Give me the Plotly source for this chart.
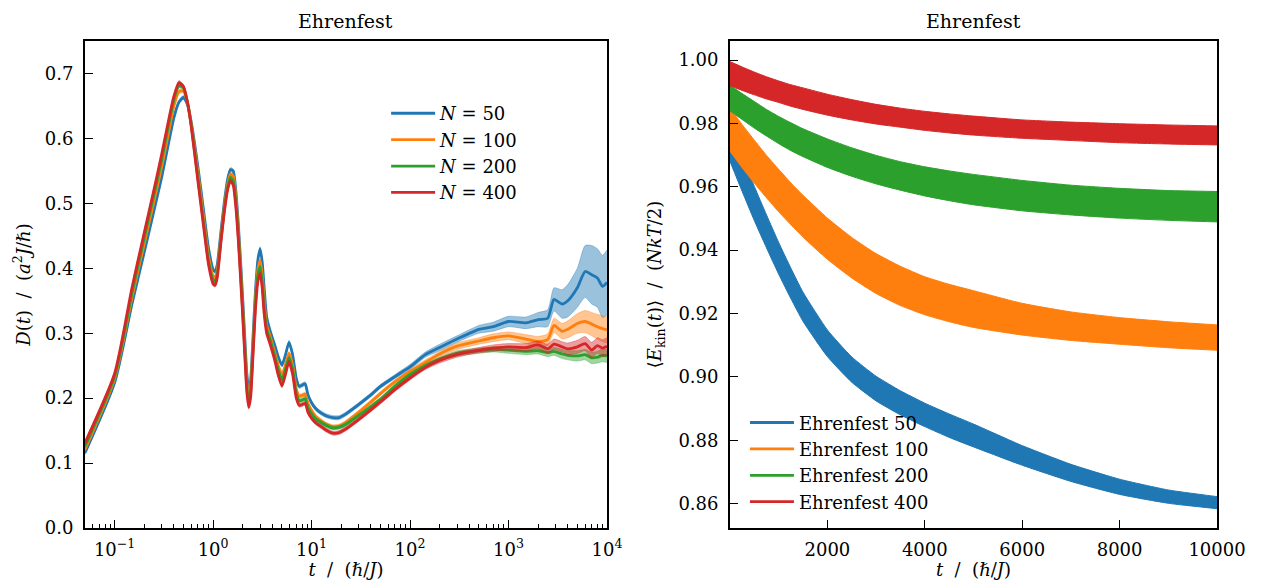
import numpy as np
import plotly.graph_objects as go

# ---------------- data: left panel, D(t) ----------------
T = [0.05, 0.1, 0.15, 0.2, 0.25, 0.3, 0.35, 0.4, 0.45, 0.5,
     0.55, 0.6, 0.7, 0.8, 0.9, 1.0, 1.05, 1.1, 1.2, 1.3,
     1.4, 1.5, 1.6, 1.7, 1.8, 1.9, 2.0, 2.1, 2.2, 2.3,
     2.4, 2.5, 2.6, 2.7, 2.85, 3.0, 3.15, 3.3, 3.5, 3.8,
     4.2, 4.6, 5.0, 5.4, 5.9, 6.4, 7.0, 7.5, 8.0, 8.6,
     9.2, 10, 11, 12, 14, 16.5, 19, 22, 30, 40,
     50, 70, 100, 143, 200, 300, 500, 700, 1000, 1500,
     2000, 2500, 2900, 3500, 4000, 5000, 6000, 7000, 8000, 9000,
     10000]

D50 = [0.116, 0.224, 0.345, 0.425, 0.488, 0.540, 0.590, 0.632, 0.656, 0.663,
       0.652, 0.625, 0.557, 0.489, 0.430, 0.398, 0.395, 0.405, 0.456, 0.502,
       0.536, 0.552, 0.550, 0.520, 0.470, 0.412, 0.352, 0.292, 0.238, 0.213,
       0.226, 0.272, 0.323, 0.368, 0.413, 0.430, 0.410, 0.370, 0.325, 0.303,
       0.283, 0.263, 0.251, 0.265, 0.286, 0.268, 0.230, 0.218, 0.220, 0.222,
       0.205, 0.193, 0.184, 0.179, 0.173, 0.170, 0.170, 0.175, 0.190, 0.205,
       0.218, 0.233, 0.248, 0.267, 0.278, 0.291, 0.306, 0.310, 0.318, 0.316,
       0.321, 0.323, 0.352, 0.345, 0.350, 0.370, 0.395, 0.390, 0.385, 0.372,
       0.378]

D100 = [0.121, 0.230, 0.355, 0.438, 0.502, 0.556, 0.606, 0.650, 0.672, 0.673,
        0.655, 0.622, 0.548, 0.478, 0.418, 0.388, 0.386, 0.396, 0.448, 0.494,
        0.528, 0.545, 0.542, 0.510, 0.459, 0.400, 0.340, 0.280, 0.226, 0.202,
        0.215, 0.260, 0.310, 0.356, 0.398, 0.412, 0.390, 0.350, 0.312, 0.295,
        0.272, 0.250, 0.236, 0.250, 0.269, 0.252, 0.214, 0.203, 0.204, 0.206,
        0.192, 0.181, 0.172, 0.167, 0.160, 0.156, 0.157, 0.162, 0.178, 0.194,
        0.207, 0.225, 0.241, 0.255, 0.268, 0.280, 0.288, 0.293, 0.296, 0.291,
        0.287, 0.290, 0.312, 0.303, 0.306, 0.315, 0.318, 0.314, 0.310, 0.307,
        0.305]

D200 = [0.126, 0.234, 0.362, 0.447, 0.512, 0.567, 0.618, 0.660, 0.681, 0.678,
        0.655, 0.620, 0.540, 0.470, 0.410, 0.382, 0.380, 0.390, 0.443, 0.490,
        0.524, 0.540, 0.535, 0.503, 0.452, 0.393, 0.333, 0.273, 0.218, 0.195,
        0.208, 0.253, 0.303, 0.349, 0.390, 0.402, 0.380, 0.340, 0.306, 0.290,
        0.266, 0.243, 0.228, 0.243, 0.262, 0.245, 0.207, 0.196, 0.197, 0.199,
        0.185, 0.176, 0.168, 0.164, 0.158, 0.154, 0.155, 0.159, 0.173, 0.187,
        0.198, 0.218, 0.236, 0.250, 0.260, 0.269, 0.273, 0.275, 0.274, 0.272,
        0.273, 0.270, 0.272, 0.268, 0.266, 0.265, 0.267, 0.262, 0.263, 0.266,
        0.265]

D400 = [0.131, 0.238, 0.370, 0.455, 0.520, 0.575, 0.625, 0.665, 0.686, 0.680,
        0.655, 0.618, 0.535, 0.465, 0.405, 0.376, 0.374, 0.385, 0.440, 0.487,
        0.520, 0.535, 0.528, 0.495, 0.445, 0.385, 0.325, 0.265, 0.210, 0.186,
        0.200, 0.245, 0.295, 0.340, 0.380, 0.392, 0.370, 0.330, 0.300, 0.283,
        0.260, 0.235, 0.219, 0.235, 0.256, 0.238, 0.200, 0.189, 0.190, 0.192,
        0.178, 0.169, 0.162, 0.158, 0.151, 0.146, 0.147, 0.152, 0.167, 0.182,
        0.194, 0.213, 0.231, 0.247, 0.258, 0.267, 0.274, 0.277, 0.279, 0.278,
        0.282, 0.276, 0.283, 0.279, 0.276, 0.279, 0.284, 0.274, 0.281, 0.277,
        0.280]

E50 = [0.003, 0.003, 0.003, 0.003, 0.003, 0.003, 0.003, 0.003, 0.003, 0.003,
       0.003, 0.003, 0.003, 0.003, 0.003, 0.003, 0.003, 0.003, 0.003, 0.003,
       0.003, 0.003, 0.003, 0.003, 0.003, 0.003, 0.003, 0.003, 0.003, 0.003,
       0.003, 0.003, 0.003, 0.003, 0.003, 0.003, 0.003, 0.003, 0.003, 0.003,
       0.003, 0.003, 0.003, 0.003, 0.003, 0.003, 0.003, 0.003, 0.003, 0.003,
       0.003, 0.003, 0.003, 0.003, 0.003, 0.003, 0.003, 0.003, 0.003, 0.003,
       0.003, 0.003, 0.004, 0.004, 0.005, 0.005, 0.006, 0.007, 0.008, 0.009,
       0.011, 0.013, 0.018, 0.022, 0.025, 0.030, 0.040, 0.045, 0.045, 0.048,
       0.050]

E100 = [0.003, 0.003, 0.003, 0.003, 0.003, 0.003, 0.003, 0.003, 0.003, 0.003,
        0.003, 0.003, 0.003, 0.003, 0.003, 0.003, 0.003, 0.003, 0.003, 0.003,
        0.003, 0.003, 0.003, 0.003, 0.003, 0.003, 0.003, 0.003, 0.003, 0.003,
        0.003, 0.003, 0.003, 0.003, 0.003, 0.003, 0.003, 0.003, 0.003, 0.003,
        0.003, 0.003, 0.003, 0.003, 0.003, 0.003, 0.003, 0.003, 0.003, 0.003,
        0.003, 0.003, 0.003, 0.003, 0.003, 0.003, 0.003, 0.003, 0.003, 0.003,
        0.003, 0.003, 0.003, 0.004, 0.004, 0.005, 0.005, 0.006, 0.006, 0.007,
        0.008, 0.009, 0.011, 0.012, 0.013, 0.015, 0.017, 0.018, 0.019, 0.020,
        0.020]

E200 = [0.003, 0.003, 0.003, 0.003, 0.003, 0.003, 0.003, 0.003, 0.003, 0.003,
        0.003, 0.003, 0.003, 0.003, 0.003, 0.003, 0.003, 0.003, 0.003, 0.003,
        0.003, 0.003, 0.003, 0.003, 0.003, 0.003, 0.003, 0.003, 0.003, 0.003,
        0.003, 0.003, 0.003, 0.003, 0.003, 0.003, 0.003, 0.003, 0.003, 0.003,
        0.003, 0.003, 0.003, 0.003, 0.003, 0.003, 0.003, 0.003, 0.003, 0.003,
        0.003, 0.003, 0.003, 0.003, 0.003, 0.003, 0.003, 0.003, 0.003, 0.003,
        0.003, 0.003, 0.003, 0.003, 0.003, 0.004, 0.004, 0.004, 0.005, 0.005,
        0.005, 0.006, 0.006, 0.007, 0.007, 0.008, 0.008, 0.009, 0.009, 0.010,
        0.010]

E400 = [0.003, 0.003, 0.003, 0.003, 0.003, 0.003, 0.003, 0.003, 0.003, 0.003,
        0.003, 0.003, 0.003, 0.003, 0.003, 0.003, 0.003, 0.003, 0.003, 0.003,
        0.003, 0.003, 0.003, 0.003, 0.003, 0.003, 0.003, 0.003, 0.003, 0.003,
        0.003, 0.003, 0.003, 0.003, 0.003, 0.003, 0.003, 0.003, 0.003, 0.003,
        0.003, 0.003, 0.003, 0.003, 0.003, 0.003, 0.003, 0.003, 0.003, 0.003,
        0.003, 0.003, 0.003, 0.003, 0.003, 0.003, 0.003, 0.003, 0.003, 0.003,
        0.003, 0.003, 0.003, 0.003, 0.004, 0.004, 0.004, 0.005, 0.005, 0.006,
        0.006, 0.007, 0.008, 0.008, 0.009, 0.010, 0.011, 0.012, 0.012, 0.013,
        0.013]

N_LABELS = ["50", "100", "200", "400"]

# ---------------- data: right panel, <E_kin(t)> ----------------
TE = [0, 250, 500, 750, 1000, 1250, 1500, 2000, 2500, 3000,
      3500, 4000, 4500, 5000, 6000, 7000, 8000, 9000, 10000]

K50_MID = [0.9735, 0.964, 0.9547, 0.9459, 0.9374, 0.9295, 0.9221, 0.9106, 0.9023, 0.8963,
           0.8918, 0.888, 0.8846, 0.8815, 0.8752, 0.8697, 0.8653, 0.8622, 0.8603]
K50_AMP = [0.0055, 0.0055, 0.0054, 0.0052, 0.005, 0.0048, 0.0046, 0.0042, 0.004, 0.0039,
           0.0038, 0.0037, 0.0037, 0.0036, 0.0031, 0.0027, 0.0024, 0.0021, 0.0019]

K100_MID = [0.978, 0.9728, 0.9679, 0.9632, 0.9588, 0.9546, 0.9507, 0.9436, 0.9376, 0.9326,
            0.9287, 0.9256, 0.9233, 0.9214, 0.9182, 0.916, 0.9145, 0.9133, 0.9124]
K100_AMP = [0.0068, 0.0068, 0.0068, 0.0067, 0.0067, 0.0066, 0.0066, 0.0065, 0.0064, 0.0063,
            0.0062, 0.006, 0.0059, 0.0058, 0.005, 0.0045, 0.0042, 0.0041, 0.004]

K200_MID = [0.988, 0.9853, 0.9827, 0.9802, 0.9779, 0.9758, 0.9739, 0.9706, 0.9678, 0.9654,
            0.9634, 0.9617, 0.9603, 0.9591, 0.9572, 0.9558, 0.9548, 0.9541, 0.9537]
K200_AMP = [0.004, 0.0041, 0.0042, 0.0042, 0.0043, 0.0044, 0.0044, 0.0045, 0.0045, 0.0045,
            0.0045, 0.0046, 0.0047, 0.0048, 0.0048, 0.0047, 0.0047, 0.0047, 0.0048]

K400_MID = [0.9957, 0.9941, 0.9926, 0.9912, 0.99, 0.9888, 0.9878, 0.9859, 0.9843, 0.9829,
            0.9818, 0.9808, 0.98, 0.9793, 0.9782, 0.9775, 0.9769, 0.9765, 0.9762]
K400_AMP = [0.0038, 0.0037, 0.0036, 0.0035, 0.0034, 0.0034, 0.0034, 0.0033, 0.0032, 0.0031,
            0.003, 0.003, 0.003, 0.003, 0.0029, 0.0029, 0.003, 0.003, 0.003]

LEFT_YTICKS = [0.0, 0.1, 0.2, 0.3, 0.4, 0.5, 0.6, 0.7]
LEFT_XTICKS = [0.1, 1, 10, 100, 1000, 10000]
LEFT_XTEXT = ["10<sup>\u22121</sup>", "10<sup>0</sup>", "10<sup>1</sup>",
              "10<sup>2</sup>", "10<sup>3</sup>", "10<sup>4</sup>"]
RIGHT_XTICKS = [2000, 4000, 6000, 8000, 10000]
RIGHT_YTICKS = [0.86, 0.88, 0.90, 0.92, 0.94, 0.96, 0.98, 1.00]

# ---------------- styling ----------------
COLORS = ["#1f77b4", "#ff7f0e", "#2ca02c", "#d62728"]
FONT = "DejaVu Serif"
FS = 18
L_DOM = [0.0, 0.4611]
R_DOM = [0.5698, 1.0]


def rgba(hexc, a):
    h = hexc.lstrip("#")
    r, g, b = int(h[0:2], 16), int(h[2:4], 16), int(h[4:6], 16)
    return f"rgba({r},{g},{b},{a})"


fig = go.Figure()

# left panel
for c, lab, d, e in zip(COLORS, N_LABELS, [D50, D100, D200, D400], [E50, E100, E200, E400]):
    d = np.array(d)
    e = np.array(e)
    fig.add_trace(go.Scatter(x=T, y=d - e, mode="lines", xaxis="x", yaxis="y",
                             line=dict(color=rgba(c, 0.35), width=1, shape="spline", smoothing=0.6),
                             showlegend=False, hoverinfo="skip"))
    fig.add_trace(go.Scatter(x=T, y=d + e, mode="lines", xaxis="x", yaxis="y", fill="tonexty",
                             fillcolor=rgba(c, 0.45),
                             line=dict(color=rgba(c, 0.35), width=1, shape="spline", smoothing=0.6),
                             showlegend=False, hoverinfo="skip"))
    fig.add_trace(go.Scatter(x=T, y=d, mode="lines", xaxis="x", yaxis="y",
                             line=dict(color=c, width=2.8, shape="spline", smoothing=0.6),
                             name=f"<i>N</i> = {lab}", legend="legend", hoverinfo="skip"))

# right panel
for c, lab, m, a in zip(COLORS, N_LABELS,
                        [K50_MID, K100_MID, K200_MID, K400_MID],
                        [K50_AMP, K100_AMP, K200_AMP, K400_AMP]):
    m = np.array(m)
    a = np.array(a)
    fig.add_trace(go.Scatter(x=TE, y=m - a, mode="lines", xaxis="x2", yaxis="y2",
                             line=dict(color=c, width=1, shape="spline", smoothing=0.5),
                             showlegend=False, hoverinfo="skip"))
    fig.add_trace(go.Scatter(x=TE, y=m + a, mode="lines", xaxis="x2", yaxis="y2", fill="tonexty",
                             fillcolor=c,
                             line=dict(color=c, width=1, shape="spline", smoothing=0.5),
                             showlegend=False, hoverinfo="skip"))
    fig.add_trace(go.Scatter(x=[None], y=[None], mode="lines", xaxis="x2", yaxis="y2",
                             line=dict(color=c, width=2.8),
                             name=f"Ehrenfest {lab}", legend="legend2", hoverinfo="skip"))

axis_common = dict(showline=True, linewidth=1.8, linecolor="black", mirror=True,
                   ticks="inside", ticklen=8, tickwidth=1.4, tickcolor="black",
                   showgrid=False, zeroline=False, automargin=False,
                   tickfont=dict(family=FONT, size=FS, color="black"))

MINOR = [k * 10.0 ** p for p in range(-2, 4) for k in range(2, 10) if 0.05 <= k * 10.0 ** p <= 10000]

# page body has an 8px margin: the figure is sized/placed to compensate
fig.update_layout(
    width=1254, height=574,
    margin=dict(l=77, r=45, t=33, b=54),
    paper_bgcolor="white", plot_bgcolor="white",
    font=dict(family=FONT, size=FS, color="black"),
    xaxis=dict(axis_common, domain=L_DOM, anchor="y", type="log",
               range=[np.log10(0.05), 4], tickvals=LEFT_XTICKS, ticktext=LEFT_XTEXT,
               ticklabelstandoff=4,
               minor=dict(ticks="inside", ticklen=4, tickwidth=1.1, tickcolor="black",
                          tickvals=MINOR, showgrid=False),
               title=dict(text="<i>t</i>  /  (<i>\u210f</i>/<i>J</i>)", standoff=2,
                          font=dict(family=FONT, size=FS))),
    yaxis=dict(axis_common, domain=[0, 1], anchor="x", range=[0, 0.75],
               tickvals=LEFT_YTICKS, tickformat=".1f", ticklabelstandoff=6,
               title=dict(text="<i>D</i>(<i>t</i>)  /  (<i>a</i><sup>2</sup><i>J</i>/<i>\u210f</i>)",
                          standoff=10, font=dict(family=FONT, size=FS))),
    xaxis2=dict(axis_common, domain=R_DOM, anchor="y2", range=[0, 10000],
                tickvals=RIGHT_XTICKS, tickformat="d", ticklabelstandoff=4,
                title=dict(text="<i>t</i>  /  (<i>\u210f</i>/<i>J</i>)", standoff=2,
                           font=dict(family=FONT, size=FS))),
    yaxis2=dict(axis_common, domain=[0, 1], anchor="x2", range=[0.8523, 1.006],
                tickvals=RIGHT_YTICKS, tickformat=".2f", ticklabelstandoff=6,
                title=dict(text="\u27e8<i>E</i><sub>kin</sub>(<i>t</i>)\u27e9  /  (<i>NkT</i>/2)",
                           standoff=12, font=dict(family=FONT, size=FS))),
    legend=dict(x=0.266, y=0.889, xanchor="left", yanchor="top", traceorder="normal",
                itemwidth=44, bgcolor="rgba(0,0,0,0)", font=dict(family=FONT, size=FS)),
    legend2=dict(x=0.583, y=0.254, xanchor="left", yanchor="top", traceorder="normal",
                 itemwidth=44, bgcolor="rgba(0,0,0,0)", font=dict(family=FONT, size=FS)),
    annotations=[
        dict(text="Ehrenfest", x=(L_DOM[0] + L_DOM[1]) / 2, y=1, xref="paper", yref="paper",
             xanchor="center", yanchor="bottom", yshift=7, showarrow=False,
             font=dict(family=FONT, size=19)),
        dict(text="Ehrenfest", x=(R_DOM[0] + R_DOM[1]) / 2, y=1, xref="paper", yref="paper",
             xanchor="center", yanchor="bottom", yshift=7, showarrow=False,
             font=dict(family=FONT, size=19)),
    ],
)

fig.write_html("out.html")
